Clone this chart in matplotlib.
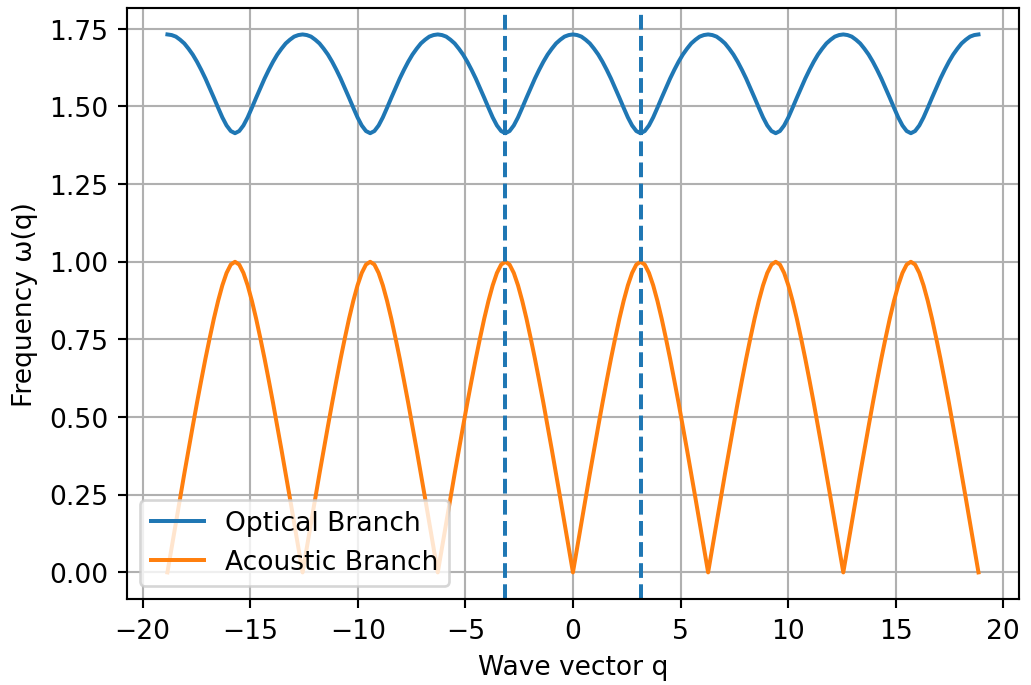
import matplotlib
matplotlib.use("Agg")
import matplotlib.pyplot as plt
import numpy as np

# one period (q = 0 .. 2*pi, step pi/16)
acoustic_period = [0.0, 0.080, 0.160, 0.239, 0.318, 0.395, 0.471, 0.546,
                   0.618, 0.688, 0.754, 0.817, 0.874, 0.924, 0.964, 0.991,
                   1.0, 0.991, 0.964, 0.924, 0.874, 0.817, 0.754, 0.688,
                   0.618, 0.546, 0.471, 0.395, 0.318, 0.239, 0.160, 0.080]
optical_period = [1.732, 1.730, 1.725, 1.715, 1.703, 1.686, 1.667, 1.644,
                  1.618, 1.590, 1.559, 1.528, 1.496, 1.465, 1.439, 1.421,
                  1.414, 1.421, 1.439, 1.465, 1.496, 1.528, 1.559, 1.590,
                  1.618, 1.644, 1.667, 1.686, 1.703, 1.715, 1.725, 1.730]
n_periods = 6
zone_edges = [-np.pi, np.pi]

q = np.linspace(-3 * 2 * np.pi, 3 * 2 * np.pi, 32 * n_periods + 1)
acoustic = np.append(np.tile(acoustic_period, n_periods), acoustic_period[0])
optical = np.append(np.tile(optical_period, n_periods), optical_period[0])

fig, ax = plt.subplots(figsize=(5.4, 3.59), dpi=191)
ax.plot(q, optical, label="Optical Branch")
ax.plot(q, acoustic, label="Acoustic Branch")
for e in zone_edges:
    ax.axvline(e, color="C0", linestyle="--")
ax.set_xlabel("Wave vector q")
ax.set_ylabel("Frequency ω(q)")
ax.grid(True)
ax.legend(loc="lower left")
fig.subplots_adjust(left=0.123, right=0.988, top=0.988, bottom=0.125)
fig.savefig("out.png")
